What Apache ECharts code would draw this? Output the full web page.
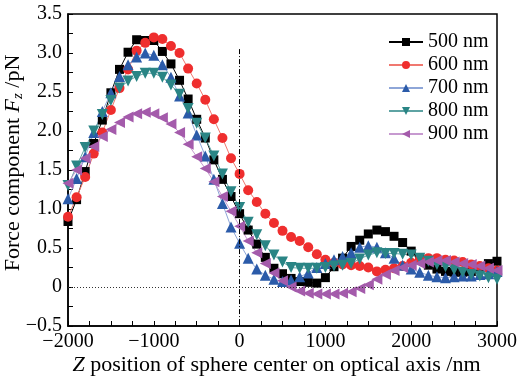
<!DOCTYPE html>
<html>
<head>
<meta charset="utf-8">
<script src="https://cdn.jsdelivr.net/npm/echarts@6/dist/echarts.min.js"></script>
<style>
  html, body { margin: 0; padding: 0; background: #fff; }
  #main { width: 528px; height: 381px; }
</style>
</head>
<body>
<div id="main"></div>
<script>
  // sphere center positions (nm)
  const positions = [
    -2000, -1900, -1800, -1700, -1600, -1500, -1400, -1300, -1200, -1100,
    -1000, -900, -800, -700, -600, -500, -400, -300, -200, -100,
    0, 100, 200, 300, 400, 500, 600, 700, 800, 900,
    1000, 1100, 1200, 1300, 1400, 1500, 1600, 1700, 1800, 1900,
    2000, 2100, 2200, 2300, 2400, 2500, 2600, 2700, 2800, 2900, 3000,
  ];

  const fz500 = [
    0.84, 1.12, 1.48, 1.84, 2.14, 2.49, 2.79, 3.01, 3.17, 3.16,
    3.16, 3.02, 2.86, 2.65, 2.41, 2.15, 1.91, 1.63, 1.38, 1.16,
    0.94, 0.73, 0.55, 0.38, 0.24, 0.17, 0.11, 0.07, 0.06, 0.05,
    0.12, 0.26, 0.37, 0.52, 0.60, 0.68, 0.73, 0.71, 0.65, 0.57,
    0.46, 0.36, 0.28, 0.23, 0.20, 0.19, 0.19, 0.20, 0.24, 0.30, 0.33,
  ];
  const fz600 = [
    0.90, 1.15, 1.41, 1.71, 1.98, 2.27, 2.55, 2.79, 3.03, 3.13,
    3.20, 3.18, 3.09, 3.00, 2.80, 2.61, 2.40, 2.15, 1.91, 1.65,
    1.45, 1.24, 1.09, 0.94, 0.82, 0.72, 0.64, 0.59, 0.51, 0.42,
    0.35, 0.31, 0.29, 0.28, 0.27, 0.25, 0.20, 0.22, 0.24, 0.27,
    0.31, 0.35, 0.37, 0.37, 0.35, 0.34, 0.32, 0.29, 0.27, 0.24, 0.21,
  ];
  const fz700 = [
    1.13, 1.39, 1.67, 1.98, 2.25, 2.49, 2.70, 2.85, 2.95, 3.00,
    2.97, 2.85, 2.69, 2.45, 2.23, 1.95, 1.68, 1.38, 1.07, 0.77,
    0.56, 0.37, 0.23, 0.15, 0.10, 0.07, 0.09, 0.13, 0.18, 0.25,
    0.30, 0.35, 0.39, 0.44, 0.51, 0.53, 0.51, 0.44, 0.37, 0.28,
    0.23, 0.19, 0.15, 0.13, 0.12, 0.13, 0.14, 0.14, 0.16, 0.17, 0.20,
  ];
  const fz800 = [
    1.30, 1.55, 1.79, 2.00, 2.21, 2.39, 2.55, 2.64, 2.70, 2.74,
    2.74, 2.69, 2.59, 2.47, 2.29, 2.10, 1.91, 1.68, 1.45, 1.22,
    1.02, 0.83, 0.67, 0.53, 0.41, 0.32, 0.25, 0.24, 0.24, 0.24,
    0.25, 0.27, 0.28, 0.30, 0.36, 0.41, 0.44, 0.43, 0.43, 0.42,
    0.41, 0.37, 0.33, 0.29, 0.26, 0.22, 0.19, 0.16, 0.14, 0.12, 0.10,
  ];
  const fz900 = [
    1.33, 1.50, 1.65, 1.80, 1.93, 2.02, 2.11, 2.18, 2.22, 2.24,
    2.22, 2.17, 2.09, 1.98, 1.83, 1.67, 1.52, 1.35, 1.16, 0.97,
    0.78, 0.59, 0.44, 0.30, 0.18, 0.08, 0.00, -0.05, -0.08, -0.09,
    -0.09, -0.09, -0.08, -0.06, -0.02, 0.03, 0.10, 0.16, 0.21, 0.25,
    0.28, 0.30, 0.32, 0.34, 0.34, 0.32, 0.30, 0.29, 0.27, 0.24, 0.21,
  ];

  const seriesNames = ['500 nm', '600 nm', '700 nm', '800 nm', '900 nm'];

  const serif = 'Liberation Serif';
  const minus = (s) => String(s).replace('-', '\u2212');

  const pairs = (ys) => positions.map((x, i) => [x, ys[i]]);

  const makeSeries = (name, ys, symbol, size, rotate, markColor, lineColor) => ({
    name,
    type: 'line',
    data: pairs(ys),
    symbol,
    symbolSize: size,
    symbolRotate: rotate,
    showAllSymbol: true,
    itemStyle: { color: markColor },
    lineStyle: { color: lineColor, width: 1 },
    emphasis: { disabled: true },
    animation: false,
  });

  const series = [
    makeSeries(seriesNames[0], fz500, 'rect', 9, 0, '#000000', '#000000'),
    makeSeries(seriesNames[1], fz600, 'circle', 10, 0, '#ef2e2e', '#f07870'),
    makeSeries(seriesNames[2], fz700, 'triangle', 11, 0, '#2b5ba9', '#8ea6d8'),
    makeSeries(seriesNames[3], fz800, 'triangle', 11, 180, '#2a8585', '#5ea3a3'),
    makeSeries(seriesNames[4], fz900, 'triangle', 11, 90, '#a45bab', '#c79ad0'),
  ];

  // reference lines: optical axis (z = 0) and F = 0
  series[0].markLine = {
    silent: true,
    symbol: 'none',
    label: { show: false },
    animation: false,
    data: [
      [
        { coord: [0, 3.05], lineStyle: { type: [5, 2, 1, 2], color: '#000', width: 1 } },
        { coord: [0, -0.5] },
      ],
      [
        { coord: [-2000, 0], lineStyle: { type: [1, 2], color: '#333', width: 1 } },
        { coord: [2930, 0] },
      ],
    ],
  };

  const chart = echarts.init(document.getElementById('main'), null, { renderer: 'canvas' });

  chart.setOption({
    animation: false,
    backgroundColor: '#ffffff',
    textStyle: { fontFamily: serif },
    grid: {
      left: 68,
      right: 31,
      top: 14,
      bottom: 55,
      show: true,
      borderColor: '#000',
      borderWidth: 1.5,
      outerBoundsMode: 'none',
    },
    legend: {
      orient: 'vertical',
      left: 388,
      top: 32,
      padding: 0,
      itemWidth: 34,
      itemHeight: 10,
      itemGap: 3,
      data: seriesNames,
      textStyle: { fontFamily: serif, fontSize: 20, color: '#000', lineHeight: 20 },
    },
    xAxis: {
      type: 'value',
      min: -2000,
      max: 3000,
      interval: 1000,
      splitLine: { show: false },
      axisLine: { onZero: false, lineStyle: { color: '#000', width: 1.5 } },
      axisTick: { inside: true, length: 5, lineStyle: { color: '#000' } },
      minorTick: { show: true, splitNumber: 4, length: 5, lineStyle: { color: '#000' } },
      axisLabel: {
        color: '#000',
        fontFamily: serif,
        fontSize: 20,
        margin: 6,
        formatter: (v) => minus(v),
      },
      name: '{i|Z} position of sphere center on optical axis /nm',
      nameLocation: 'middle',
      nameGap: 28,
      nameMoveOverlap: false,
      nameTextStyle: {
        color: '#000',
        fontFamily: serif,
        fontSize: 22,
        padding: [0, 12, 0, 0],
        rich: {
          i: { fontFamily: serif, fontSize: 22, fontStyle: 'italic', color: '#000' },
        },
      },
    },
    yAxis: {
      type: 'value',
      min: -0.5,
      max: 3.5,
      interval: 0.5,
      splitLine: { show: false },
      axisLine: { onZero: false, lineStyle: { color: '#000', width: 1.5 } },
      axisTick: { inside: true, length: 5, lineStyle: { color: '#000' } },
      minorTick: { show: true, splitNumber: 2, length: 5, lineStyle: { color: '#000' } },
      axisLabel: {
        color: '#000',
        fontFamily: serif,
        fontSize: 20,
        margin: 6,
        formatter: (v) => (v === 0 ? '0' : minus(v.toFixed(1))),
      },
      name: 'Force component {i|F}{s|z} /pN',
      nameLocation: 'middle',
      nameGap: 42,
      nameMoveOverlap: false,
      nameTextStyle: {
        color: '#000',
        fontFamily: serif,
        fontSize: 22,
        padding: [0, 0, 0, 14],
        rich: {
          i: { fontFamily: serif, fontSize: 22, fontStyle: 'italic', color: '#000' },
          s: { fontFamily: serif, fontSize: 15, fontStyle: 'italic', color: '#000', padding: [10, 0, 0, 0] },
        },
      },
    },
    series,
  });
</script>
</body>
</html>
